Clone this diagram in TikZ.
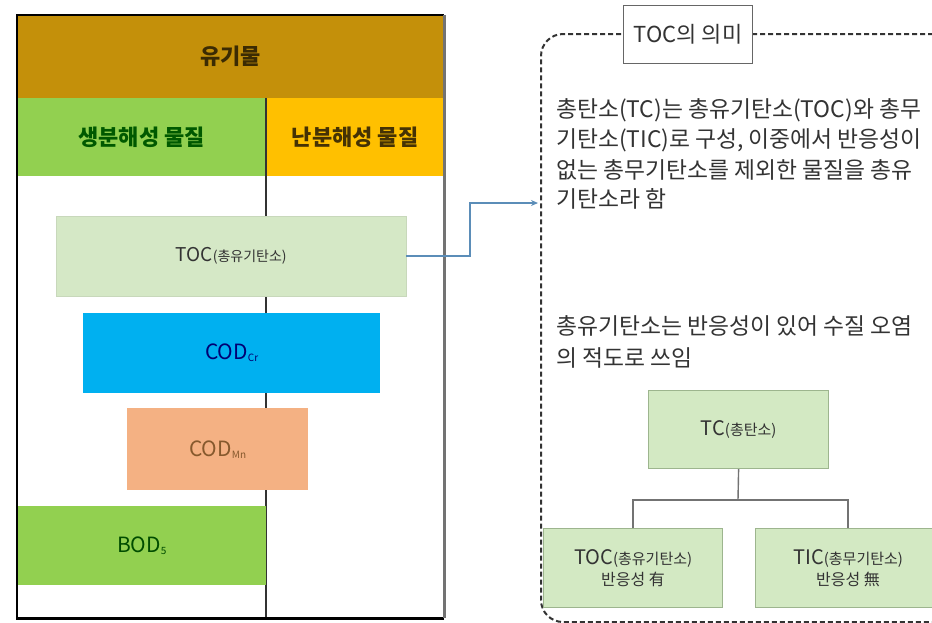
\documentclass[tikz,border=0pt]{standalone}
\usepackage{fontspec}
\setmainfont{Noto Sans CJK KR}
\usetikzlibrary{arrows.meta}
\definecolor{orgband}{HTML}{C4900A}
\definecolor{biogreen}{HTML}{92D050}
\definecolor{nonbioyel}{HTML}{FFC000}
\definecolor{tocfill}{HTML}{D5E8C6}
\definecolor{codcrfill}{HTML}{00B0F0}
\definecolor{codmnfill}{HTML}{F4B183}
\definecolor{treefill}{HTML}{D3E9C3}
\definecolor{treeborder}{HTML}{9DB58E}
\definecolor{connblue}{HTML}{5B8DB8}
\definecolor{txtdark}{HTML}{333333}
\newcommand{\myfs}[1]{\fontsize{#1}{#1}\selectfont}
\begin{document}
\begin{tikzpicture}[x=1pt,y=-1pt,
  blk/.style={rectangle, inner sep=0pt, anchor=north west, align=center},
  conn/.style={draw=connblue, line width=2.2pt, -{Stealth[length=7pt,width=6pt]}},
  treebox/.style={blk, fill=treefill, draw=treeborder, line width=1.2pt, text=txtdark},
  treeline/.style={draw=gray!90!black, line width=1.4pt},
  para/.style={anchor=west, inner sep=0pt, text=txtdark, font=\myfs{22.8}}
]
\useasboundingbox (0,0) rectangle (932,622);
\fill[white] (0,0) rectangle (932,622);
\clip (0,0) rectangle (932,622);

% ---------- left panel ----------
\node[blk, fill=orgband, minimum width=427pt, minimum height=83pt, text=black!70!orgband, font=\myfs{22}\bfseries] (org) at (17,15) {유기물};
\node[blk, fill=biogreen, minimum width=249pt, minimum height=78pt, text=green!35!black, font=\myfs{22}\bfseries] (bio) at (17,98) {생분해성 물질};
\node[blk, fill=nonbioyel, minimum width=178pt, minimum height=78pt, text=black!65!orgband, font=\myfs{22}\bfseries] (nonbio) at (266,98) {난분해성 물질};
\node[blk, draw=none, minimum width=427pt, minimum height=603pt] (frame) at (17,15) {};

\draw[line width=2pt, black!80] (bio.north east) -- (bio.north east |- frame.south);

\node[blk, fill=tocfill, draw=tocfill!85!gray, minimum width=350pt, minimum height=80pt, text=txtdark] (toc) at (56,216) {{\myfs{19}TOC}{\myfs{14}(총유기탄소)}};
\node[blk, fill=codcrfill, minimum width=297pt, minimum height=80pt, text=blue!45!black] (codcr) at (83,313) {{\myfs{21}COD}\raisebox{-2pt}{\myfs{10}Cr}};
\node[blk, fill=codmnfill, minimum width=181pt, minimum height=82pt, text=brown!70!black] (codmn) at (127,408) {{\myfs{21}COD}\raisebox{-2pt}{\myfs{10}Mn}};
\node[blk, fill=biogreen, minimum width=249pt, minimum height=79pt, text=green!30!black] (bod) at (17,506) {{\myfs{21}BOD}\raisebox{-2pt}{\myfs{10}5}};

\draw[line width=2.6pt, black] (frame.south east) -- (frame.south west) -- (frame.north west) -- (frame.north east);
\draw[line width=2.6pt, black!55] (frame.north east) -- (frame.south east);

% ---------- connector ----------
\coordinate (bend) at (470,203);
\coordinate (tgt) at (538,203);
\draw[conn] (toc.east) -| (bend) -- (tgt);

% ---------- right panel ----------
\node[blk, draw=black!80, dashed, dash pattern=on 5pt off 3pt, line width=2pt, rounded corners=22pt, minimum width=430pt, minimum height=588pt] (panel) at (540,33) {};
\node[blk, draw=black!60, fill=white, line width=1pt, minimum width=129pt, minimum height=58pt, text=txtdark, font=\myfs{22}] (title) at (623,5) {TOC의 의미};

\node[para] (p1) at (556,110) {총탄소(TC)는 총유기탄소(TOC)와 총무};
\node[para] (p2) at (556,140) {기탄소(TIC)로 구성, 이중에서 반응성이};
\node[para] (p3) at (556,170) {없는 총무기탄소를 제외한 물질을 총유};
\node[para] (p4) at (556,199) {기탄소라 함};
\node[para] (p5) at (556,326) {총유기탄소는 반응성이 있어 수질 오염};
\node[para] (p6) at (556,358) {의 적도로 쓰임};

\node[treebox, minimum width=180pt, minimum height=78pt] (tc) at (648,390) {{\myfs{20}TC}{\myfs{15}(총탄소)}};
\node[treebox, minimum width=179pt, minimum height=79pt] (c1) at (543,528) {{\myfs{20}TOC}{\myfs{15}(총유기탄소)}\\[3pt]{\myfs{16}반응성 有}};
\node[treebox, minimum width=185pt, minimum height=79pt] (c2) at (755,528) {{\myfs{20}TIC}{\myfs{15}(총무기탄소)}\\[3pt]{\myfs{16}반응성 無}};

\coordinate (junc) at (738,500);
\draw[treeline] (tc.south) -- (junc);
\draw[treeline] (c1.north) |- (junc) -| (c2.north);
\end{tikzpicture}
\end{document}
